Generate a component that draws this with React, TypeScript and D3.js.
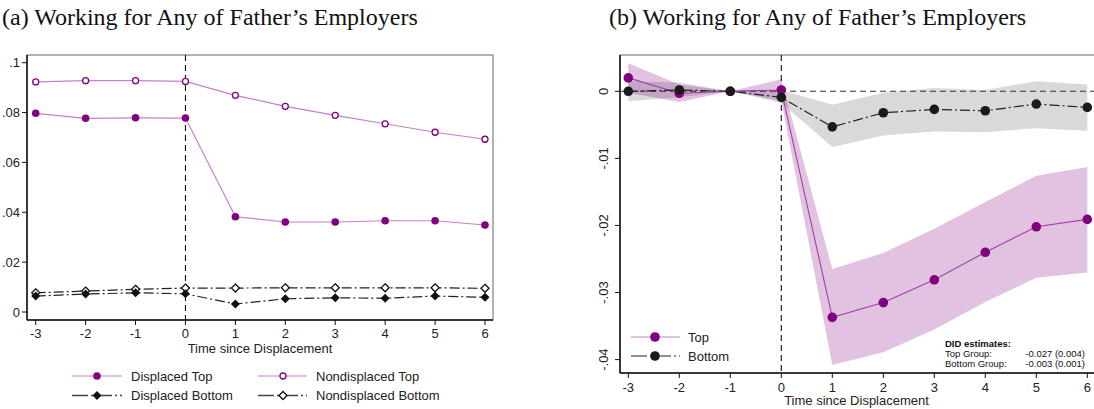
import React from "react";
import * as d3 from "d3";

// Event time relative to displacement
const years = [-3, -2, -1, 0, 1, 2, 3, 4, 5, 6];

// Panel (a): share working for any of father's employers
const displacedTop = [0.0797, 0.0777, 0.0779, 0.0778, 0.0382, 0.0361, 0.0361, 0.0366, 0.0366, 0.0349];
const nondisplacedTop = [0.0923, 0.0928, 0.0928, 0.0925, 0.0869, 0.0825, 0.0789, 0.0755, 0.0721, 0.0693];
const displacedBottom = [0.0064, 0.0072, 0.0077, 0.0073, 0.0032, 0.0053, 0.0057, 0.0055, 0.0064, 0.0059];
const nondisplacedBottom = [0.0077, 0.0084, 0.0091, 0.0096, 0.0096, 0.0097, 0.0097, 0.0097, 0.0097, 0.0095];

// Panel (b): event-study coefficients with confidence bands
const topCoef = [0.002, -0.0003, 0, 0.0002, -0.0337, -0.0315, -0.0281, -0.024, -0.0202, -0.0191];
const topLo = [-0.0002, -0.0016, 0, -0.0014, -0.0408, -0.0389, -0.0355, -0.0314, -0.0278, -0.027];
const topHi = [0.0042, 0.001, 0, 0.0018, -0.0265, -0.0241, -0.0205, -0.0165, -0.0126, -0.0113];
const botCoef = [0, 0.0002, 0, -0.0009, -0.0053, -0.0032, -0.0027, -0.0029, -0.0019, -0.0024];
const botLo = [-0.0015, -0.0009, 0, -0.0017, -0.0083, -0.0066, -0.006, -0.0061, -0.0055, -0.0059];
const botHi = [0.0015, 0.0013, 0, 0.0002, -0.002, -0.0002, 0.0005, 0.0002, 0.0015, 0.001];

const yTicksA = [0, 0.02, 0.04, 0.06, 0.08, 0.1];
const yTickLabelsA = ["0", ".02", ".04", ".06", ".08", ".1"];
const yTicksB = [0, -0.01, -0.02, -0.03, -0.04];
const yTickLabelsB = ["0", "-.01", "-.02", "-.03", "-.04"];

const didLines = [
  ["Top Group:", "-0.027 (0.004)"],
  ["Bottom Group:", "-0.003 (0.001)"],
];

const SANS = "'Liberation Sans', Arial, sans-serif";
const SERIF = "'Liberation Serif', 'DejaVu Serif', serif";
const PURPLE = "#800080";
const LIGHT_PURPLE = "#c77fc9";
const DASHDOT = "10,3,2,3";

const diamond = (cx: number, cy: number, r: number) =>
  `M${cx},${cy - r}L${cx + r},${cy}L${cx},${cy + r}L${cx - r},${cy}Z`;

export default function App() {
  // Panel (a) geometry
  const aL = 27, aR = 493, aT = 55, aB = 320;
  const xA = d3.scaleLinear().domain([-3, 6]).range([35.7, 485]);
  const yA = d3.scaleLinear().domain([0, 0.1]).range([312, 62.7]);
  const lineA = (vals: number[]) =>
    d3.line<number>().x((_, i) => xA(years[i])).y((v) => yA(v))(vals) as string;

  // Panel (b) geometry
  const bL = 620, bR = 1096, bT = 55, bB = 373;
  const xB = d3.scaleLinear().domain([-3, 6]).range([628.3, 1087.3]);
  const yB = d3.scaleLinear().domain([-0.04, 0]).range([359.6, 91.3]);
  const lineB = (vals: number[]) =>
    d3.line<number>().x((_, i) => xB(years[i])).y((v) => yB(v))(vals) as string;
  const bandB = (lo: number[], hi: number[]) =>
    d3
      .area<number>()
      .x((_, i) => xB(years[i]))
      .y0((_, i) => yB(lo[i]))
      .y1((_, i) => yB(hi[i]))(years) as string;

  return (
    <svg
      width={1094}
      height={409}
      style={{ position: "absolute", left: 0, top: 0, background: "#fff" }}
      fontFamily={SANS}
    >
      {/* Titles */}
      <text x={2} y={25} fontFamily={SERIF} fontSize={24} fill="#111">
        (a)  Working for Any of Father’s Employers
      </text>
      <text x={609} y={25} fontFamily={SERIF} fontSize={24} fill="#111">
        (b)  Working for Any of Father’s Employers
      </text>

      {/* ---------- Panel (a) ---------- */}
      <rect x={aL} y={aT} width={aR - aL} height={aB - aT} fill="none" stroke="#666" strokeWidth={1} />
      <line x1={aL} x2={aL} y1={aT} y2={aB} stroke="#111" strokeWidth={1.5} />
      <line x1={aL} x2={aR} y1={aB} y2={aB} stroke="#111" strokeWidth={1.5} />
      {yTicksA.map((t, i) => (
        <g key={"ya" + i}>
          <line x1={aL - 5} x2={aL} y1={yA(t)} y2={yA(t)} stroke="#111" />
          <text x={aL - 7} y={yA(t) + 4.5} fontSize={13} textAnchor="end" fill="#222">
            {yTickLabelsA[i]}
          </text>
        </g>
      ))}
      {years.map((t) => (
        <g key={"xa" + t}>
          <line x1={xA(t)} x2={xA(t)} y1={aB} y2={aB + 5} stroke="#111" />
          <text x={xA(t)} y={aB + 18} fontSize={13} textAnchor="middle" fill="#222">
            {t}
          </text>
        </g>
      ))}
      <text x={(aL + aR) / 2} y={aB + 33} fontSize={13} textAnchor="middle" fill="#222">
        Time since Displacement
      </text>
      <line x1={xA(0)} x2={xA(0)} y1={aT} y2={aB} stroke="#111" strokeDasharray="6,4" strokeWidth={1.1} />

      <path d={lineA(nondisplacedTop)} fill="none" stroke={LIGHT_PURPLE} strokeWidth={1.2} />
      <path d={lineA(displacedTop)} fill="none" stroke={LIGHT_PURPLE} strokeWidth={1.2} />
      <path d={lineA(nondisplacedBottom)} fill="none" stroke="#222" strokeWidth={1.2} strokeDasharray={DASHDOT} />
      <path d={lineA(displacedBottom)} fill="none" stroke="#222" strokeWidth={1.2} strokeDasharray={DASHDOT} />
      {years.map((t, i) => (
        <g key={"ma" + t}>
          <circle cx={xA(t)} cy={yA(nondisplacedTop[i])} r={3} fill="#fff" stroke={PURPLE} strokeWidth={1.3} />
          <circle cx={xA(t)} cy={yA(displacedTop[i])} r={3.8} fill={PURPLE} />
          <path d={diamond(xA(t), yA(nondisplacedBottom[i]), 4)} fill="#fff" stroke="#111" strokeWidth={1.3} />
          <path d={diamond(xA(t), yA(displacedBottom[i]), 4.5)} fill="#111" />
        </g>
      ))}

      {/* Legend (a) */}
      <g fontSize={13} fill="#222">
        <line x1={72} x2={122} y1={376} y2={376} stroke={LIGHT_PURPLE} strokeWidth={1.2} />
        <circle cx={97} cy={376} r={3.8} fill={PURPLE} />
        <text x={131} y={380.5}>Displaced Top</text>
        <line x1={258} x2={307} y1={376} y2={376} stroke={LIGHT_PURPLE} strokeWidth={1.2} />
        <circle cx={283} cy={376} r={3} fill="#fff" stroke={PURPLE} strokeWidth={1.3} />
        <text x={316} y={380.5}>Nondisplaced Top</text>
        <line x1={72} x2={122} y1={395.5} y2={395.5} stroke="#444" strokeWidth={1.3} strokeDasharray="16,3,2,3" />
        <path d={diamond(97, 395.5, 4.5)} fill="#111" />
        <text x={131} y={400}>Displaced Bottom</text>
        <line x1={258} x2={307} y1={395.5} y2={395.5} stroke="#444" strokeWidth={1.3} strokeDasharray="16,3,2,3" />
        <path d={diamond(283, 395.5, 4)} fill="#fff" stroke="#111" strokeWidth={1.3} />
        <text x={316} y={400}>Nondisplaced Bottom</text>
      </g>

      {/* ---------- Panel (b) ---------- */}
      <path d={bandB(botLo, botHi)} fill="rgba(0,0,0,0.15)" />
      <path d={bandB(topLo, topHi)} fill="rgba(128,0,128,0.24)" />
      <rect x={bL} y={bT} width={bR - bL} height={bB - bT} fill="none" stroke="#666" strokeWidth={1} />
      <line x1={bL} x2={bL} y1={bT} y2={bB} stroke="#111" strokeWidth={1.5} />
      <line x1={bL} x2={bR} y1={bB} y2={bB} stroke="#111" strokeWidth={1.5} />
      {yTicksB.map((t, i) => (
        <g key={"yb" + i}>
          <line x1={bL - 5} x2={bL} y1={yB(t)} y2={yB(t)} stroke="#111" />
          <text
            transform={`translate(${bL - 12},${yB(t)}) rotate(-90)`}
            fontSize={13}
            textAnchor="middle"
            fill="#222"
          >
            {yTickLabelsB[i]}
          </text>
        </g>
      ))}
      {years.map((t) => (
        <g key={"xb" + t}>
          <line x1={xB(t)} x2={xB(t)} y1={bB} y2={bB + 5} stroke="#111" />
          <text x={xB(t)} y={bB + 19} fontSize={13} textAnchor="middle" fill="#222">
            {t}
          </text>
        </g>
      ))}
      <text x={(bL + 1093) / 2} y={bB + 32} fontSize={13} textAnchor="middle" fill="#222">
        Time since Displacement
      </text>
      <line x1={bL} x2={bR} y1={yB(0)} y2={yB(0)} stroke="#333" strokeDasharray="6,4" strokeWidth={1.1} />
      <line x1={xB(0)} x2={xB(0)} y1={bT} y2={bB} stroke="#111" strokeDasharray="6,4" strokeWidth={1.1} />

      <path d={lineB(topCoef)} fill="none" stroke="#a040a8" strokeWidth={1.1} />
      <path d={lineB(botCoef)} fill="none" stroke="#222" strokeWidth={1.2} strokeDasharray={DASHDOT} />
      {years.map((t, i) => (
        <g key={"mb" + t}>
          <circle cx={xB(t)} cy={yB(topCoef[i])} r={4.8} fill={PURPLE} />
          <circle cx={xB(t)} cy={yB(botCoef[i])} r={4.8} fill="#1a1a1a" />
        </g>
      ))}

      {/* Legend (b) */}
      <g fontSize={13} fill="#222">
        <line x1={631} x2={680} y1={337} y2={337} stroke={LIGHT_PURPLE} strokeWidth={1.2} />
        <circle cx={655} cy={337} r={4.8} fill={PURPLE} />
        <text x={688} y={341.5}>Top</text>
        <line x1={631} x2={680} y1={356} y2={356} stroke="#222" strokeWidth={1.2} strokeDasharray="16,3,2,3" />
        <circle cx={655} cy={356} r={4.8} fill="#1a1a1a" />
        <text x={688} y={360.5}>Bottom</text>
      </g>

      {/* DID estimates */}
      <g fontSize={9.5} fill="#111">
        <text x={945} y={347} fontWeight="bold">DID estimates:</text>
        {didLines.map((row, i) => (
          <g key={"did" + i}>
            <text x={945} y={357 + i * 10}>{row[0]}</text>
            <text x={1085} y={357 + i * 10} textAnchor="end">{row[1]}</text>
          </g>
        ))}
      </g>
    </svg>
  );
}
